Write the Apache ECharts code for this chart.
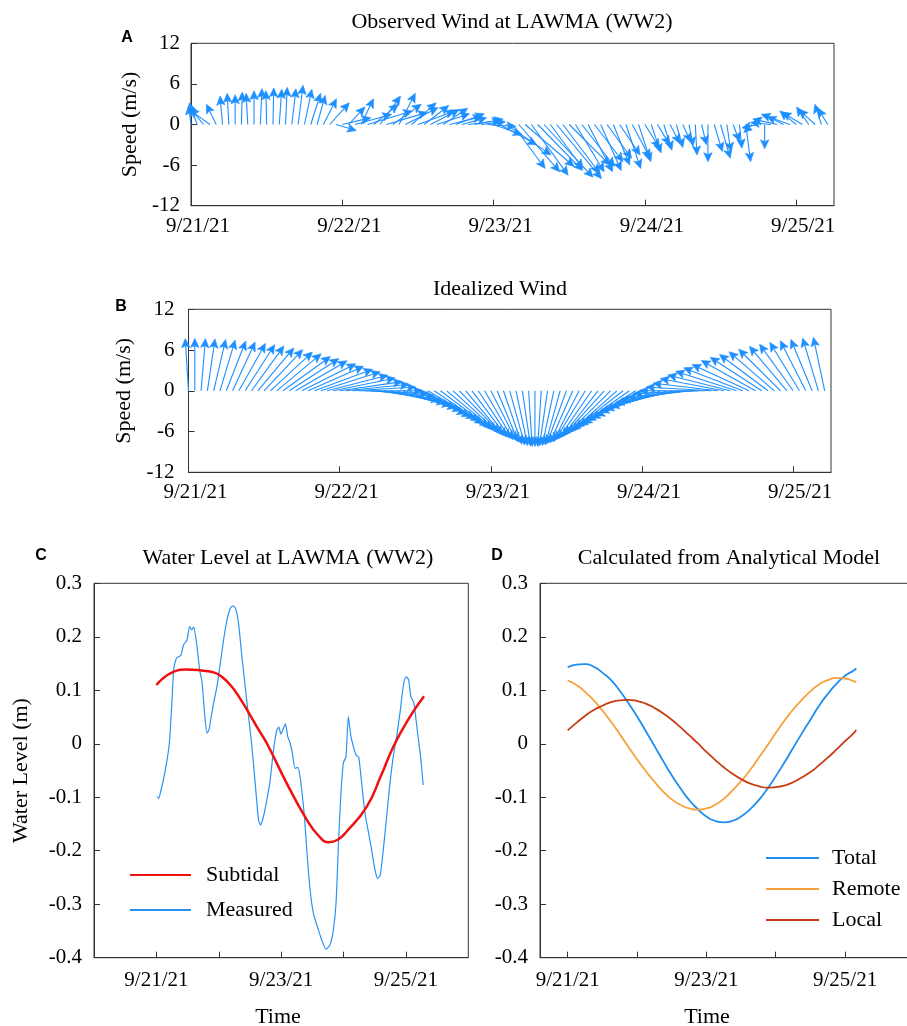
<!DOCTYPE html>
<html>
<head>
<meta charset="utf-8">
<script src="https://cdn.jsdelivr.net/npm/echarts@6/dist/echarts.min.js"></script>
<style>
  html, body { margin: 0; padding: 0; background: #fff; }
  #chart { width: 907px; height: 1026px; }
</style>
</head>
<body>
<div id="chart"></div>
<script>
  // x values are days after 9/21/21 00:00
  const dayLabels = ['9/21/21', '9/22/21', '9/23/21', '9/24/21', '9/25/21'];

  // hourly wind samples, 9/21 00:00 .. 9/25 05:00
  const windHours = Array.from({ length: 102 }, (_, i) => i);

  // A: observed wind components (m/s), east (u) and north (v)
  const obsU = [-0.3, -1.0, -1.8, -2.5, -1.2, -0.3, -0.2, 0.0, 0.1, -0.2, 0.0, 0.2, -0.1, 0.1, 0.3, 0.2, 0.5, 0.6, 0.9, 1.2,
    1.0, 1.6, 2.4, 2.5, 3.5, 2.0, 4.5, 1.5, 5.5, 3.0, 2.5, 5.0, 3.5, 2.0, 4.0, 3.0, 4.5, 3.0, 3.5, 4.0,
    3.0, 4.0, 3.5, 3.0, 4.0, 3.5, 3.0, 3.5, 3.5, 4.5, 5.5, 4.0, 5.0, 6.0, 4.5, 5.5, 6.0, 4.0, 5.5, 4.5,
    5.0, 3.5, 4.0, 3.0, 3.5, 2.5, 3.0, 2.0, 2.5, 1.8, 2.2, 1.5, 1.8, 1.2, 1.5, 1.0, 1.2, 0.8, 1.0, 0.5,
    0.2, 0.6, 0.0, 1.0, 1.2, 0.5, 0.8, 0.3, 0.6, -1.0, -2.0, 0.0, -2.5, -3.0, -2.0, -3.5, -2.0, -2.5, -1.5, -2.0,
    -0.8, -1.2];
  const obsV = [2.8, 3.2, 2.6, 2.2, 3.0, 4.2, 4.6, 4.4, 4.8, 4.6, 5.0, 5.3, 5.0, 5.4, 5.2, 5.5, 5.3, 5.8, 5.2, 4.6,
    4.3, 3.8, 3.2, -0.9, 1.0, 2.6, 1.5, 3.8, 2.0, 3.0, 4.2, 1.8, 3.0, 4.6, 2.5, 3.2, 2.0, 2.8, 2.2, 1.6,
    2.4, 1.2, 1.6, 1.0, 0.6, 0.8, 0.4, -0.3, -1.5, -3.0, -4.5, -6.5, -7.0, -6.2, -7.5, -6.8, -7.8, -6.5, -8.0, -7.2,
    -6.0, -7.0, -6.2, -7.0, -5.5, -6.8, -5.0, -6.0, -4.5, -6.5, -5.0, -5.5, -3.5, -4.2, -3.0, -3.8, -2.8, -3.4, -2.6, -3.2,
    -4.5, -3.0, -5.5, -4.0, -5.0, -4.0, -2.5, -3.5, -5.5, -1.2, -0.5, -3.6, 0.3, 0.8, 1.2, 1.5, 2.0, 1.8, 2.6, 2.2,
    3.0, 2.4];

  // B: idealized wind, speed (m/s) and direction it points to (deg clockwise from north)
  const idealSpeed = [7.7, 7.7, 7.7, 7.7, 7.7, 7.7, 7.7, 7.7, 7.7, 7.7, 7.7, 7.7, 7.7, 7.7, 7.7, 7.7, 7.7, 7.7, 7.7, 7.7,
    7.8, 7.8, 7.8, 7.8, 7.8, 7.8, 7.8, 7.8, 7.8, 7.8, 7.8, 7.8, 7.8, 7.8, 7.8, 7.8, 7.8, 7.8, 7.8, 7.8,
    8.0, 8.0, 8.0, 8.0, 8.0, 8.0, 8.0, 8.0, 8.0, 8.0,
    8.2, 8.2, 8.2, 8.2, 8.2, 8.2, 8.2, 8.2, 8.2, 8.2, 8.2, 8.2, 8.2, 8.2, 8.2,
    8.1, 8.1, 8.1, 8.1, 8.1, 8.1, 8.1, 8.1, 8.1, 8.1, 8.1, 8.1, 8.1, 8.1, 8.1,
    8.0, 8.0, 8.0, 8.0, 8.0, 8.0, 8.0, 8.0, 8.0, 8.0, 8.0, 8.0, 8.0, 8.0, 8.0, 8.0, 8.0, 8.0, 8.0, 8.0, 8.0, 8.0];
  const idealDir = [-3, 0, 4, 7, 11, 14, 18, 21, 25, 28, 31, 35, 38, 42, 45, 49, 52, 55, 59, 62, 66, 69, 73, 76, 80, 83, 86, 90,
    93, 96, 100, 103, 106, 109, 112, 116, 119, 122, 125, 129, 132, 135, 138, 141, 145, 148, 151, 154, 157, 161, 164, 167, 170, 173, 177, 180,
    183, 187, 190, 193, 197, 200, 203, 207, 210, 213, 217, 220, 223, 227, 230, 233, 237, 240, 243, 247, 250, 253, 257, 260, 263, 267, 270,
    274, 278, 283, 287, 291, 295, 299, 304, 308, 312, 316, 320, 325, 329, 333, 337, 341, 346, 350];

  // C: water level at LAWMA (m)
  const subTime = [0, 0.28, 0.49, 0.72, 0.93, 1.05, 1.2, 1.35, 1.5, 1.65, 1.77, 2.09, 2.41, 2.6, 2.76, 2.9, 3.05, 3.37, 3.6, 3.8, 4.05, 4.29];
  const subLevel = [0.110, 0.135, 0.139, 0.137, 0.133, 0.125, 0.108, 0.083, 0.054, 0.024, 0.001, -0.074, -0.142, -0.172, -0.184, -0.180, -0.164, -0.118, -0.060, -0.005, 0.048, 0.089];
  const measTime = [0.011, 0.037, 0.075, 0.117, 0.171, 0.208, 0.245, 0.277, 0.32, 0.363, 0.395, 0.437, 0.491, 0.533, 0.565, 0.597,
    0.651, 0.693, 0.731, 0.768, 0.811, 0.843, 0.88, 0.917, 0.971, 1.024, 1.077, 1.131, 1.184, 1.227, 1.269, 1.317,
    1.371, 1.424, 1.477, 1.531, 1.584, 1.637, 1.669, 1.717, 1.771, 1.824, 1.877, 1.931, 1.963, 1.995, 2.027, 2.069,
    2.107, 2.144, 2.176, 2.224, 2.267, 2.304, 2.336, 2.373, 2.411, 2.464, 2.517, 2.597, 2.651, 2.72, 2.784, 2.837,
    2.88, 2.917, 2.955, 2.997, 3.04, 3.077, 3.115, 3.157, 3.2, 3.243, 3.291, 3.344, 3.397, 3.451, 3.504, 3.547,
    3.589, 3.637, 3.691, 3.744, 3.797, 3.851, 3.904, 3.957, 4.0, 4.043, 4.08, 4.128, 4.181, 4.235, 4.277];
  const measLevel = [-0.099, -0.102, -0.086, -0.065, -0.030, 0.001, 0.069, 0.138, 0.160, 0.163, 0.166, 0.185, 0.194, 0.219, 0.213, 0.218,
    0.182, 0.138, 0.116, 0.063, 0.020, 0.026, 0.051, 0.076, 0.107, 0.150, 0.194, 0.231, 0.253, 0.258, 0.253, 0.225,
    0.163, 0.107, 0.051, -0.005, -0.074, -0.142, -0.152, -0.136, -0.105, -0.068, -0.012, 0.026, 0.031, 0.018, 0.026, 0.037,
    0.013, 0.001, -0.015, -0.046, -0.044, -0.062, -0.093, -0.136, -0.199, -0.273, -0.317, -0.348, -0.367, -0.384, -0.376, -0.348,
    -0.298, -0.192, -0.099, -0.036, -0.024, 0.051, 0.016, -0.005, -0.021, -0.025, -0.074, -0.130, -0.164, -0.199, -0.236, -0.252,
    -0.245, -0.199, -0.136, -0.074, -0.024, 0.013, 0.057, 0.107, 0.125, 0.120, 0.088, 0.076, 0.026, -0.024, -0.077];

  // D: analytical model (m)
  const modelTime = [0, 0.125, 0.25, 0.375, 0.5, 0.625, 0.75, 0.875, 1, 1.125, 1.25, 1.375, 1.5, 1.625, 1.75, 1.875, 2,
    2.125, 2.25, 2.375, 2.5, 2.625, 2.75, 2.875, 3, 3.125, 3.25, 3.375, 3.5, 3.625, 3.75, 3.875, 4, 4.125, 4.16];
  const modelTotal = [0.143, 0.148, 0.149, 0.144, 0.133, 0.119, 0.099, 0.076, 0.051, 0.024, -0.004, -0.032, -0.059, -0.083, -0.105, -0.122, -0.136,
    -0.144, -0.147, -0.144, -0.136, -0.123, -0.106, -0.085, -0.061, -0.035, -0.008, 0.019, 0.045, 0.071, 0.093, 0.112, 0.127, 0.137, 0.141];
  const modelRemote = [0.118, 0.110, 0.097, 0.081, 0.062, 0.041, 0.018, -0.006, -0.029, -0.051, -0.071, -0.089, -0.104, -0.114, -0.121, -0.123, -0.121,
    -0.114, -0.103, -0.087, -0.070, -0.050, -0.027, -0.004, 0.020, 0.043, 0.064, 0.082, 0.098, 0.111, 0.119, 0.123, 0.122, 0.117, 0.115];
  const modelLocal = [0.025, 0.039, 0.052, 0.063, 0.071, 0.078, 0.081, 0.082, 0.080, 0.075, 0.067, 0.057, 0.045, 0.031, 0.016, 0.001, -0.015,
    -0.030, -0.044, -0.056, -0.066, -0.074, -0.079, -0.082, -0.081, -0.078, -0.072, -0.063, -0.053, -0.040, -0.026, -0.011, 0.005, 0.020, 0.026];

  const SERIF = 'Liberation Serif';
  const ARROW_BLUE = '#1E8FFF';
  const ARROW_DAYS_PER_MS = 0.054; // horizontal stretch of a wind vector on the time axis
  const HEAD_LEN = 9;
  const HEAD_HALF = 4.2;

  const obsRows = windHours.map((h, i) => [h / 24, obsU[i], obsV[i]]);
  const idealRows = windHours.map((h, i) => {
    const a = idealDir[i] * Math.PI / 180;
    return [h / 24, idealSpeed[i] * Math.sin(a), idealSpeed[i] * Math.cos(a)];
  });
  const pairs = (xs, ys) => xs.map((x, i) => [x, ys[i]]);

  function renderArrow(params, api) {
    const t = api.value(0);
    const u = api.value(1);
    const v = api.value(2);
    const p0 = api.coord([t, 0]);
    const p1 = api.coord([t + u * ARROW_DAYS_PER_MS, v]);
    const dx = p1[0] - p0[0];
    const dy = p1[1] - p0[1];
    const len = Math.hypot(dx, dy);
    if (len < 0.5) return null;
    const ux = dx / len, uy = dy / len;
    const hl = Math.min(HEAD_LEN, len * 0.7);
    const hw = HEAD_HALF * hl / HEAD_LEN;
    const bx = p1[0] - ux * hl, by = p1[1] - uy * hl;
    const nx = -uy, ny = ux;
    const notch = [p1[0] - ux * hl * 0.8, p1[1] - uy * hl * 0.8];
    return {
      type: 'group',
      children: [
        { type: 'line', shape: { x1: p0[0], y1: p0[1], x2: notch[0], y2: notch[1] }, style: { stroke: ARROW_BLUE, lineWidth: 1.1 } },
        { type: 'polygon', shape: { points: [[p1[0], p1[1]], [bx + nx * hw, by + ny * hw], notch, [bx - nx * hw, by - ny * hw]] },
          style: { fill: ARROW_BLUE, stroke: ARROW_BLUE, lineWidth: 0.6 } }
      ]
    };
  }

  const tickLabel = { color: '#000', fontFamily: SERIF, fontSize: 21 };
  const axisLine = { show: true, onZero: false, lineStyle: { color: '#333', width: 1 } };
  const tickIn = { show: true, inside: true, length: 6, lineStyle: { color: '#333' } };

  function windXAxis(gridIndex) {
    return {
      type: 'value', gridIndex: gridIndex, min: 0, max: 4.25, interval: 1,
      axisLine: axisLine, splitLine: { show: false },
      axisTick: Object.assign({ customValues: [0, 1, 2, 3, 4] }, tickIn),
      axisLabel: Object.assign({ customValues: [0, 1, 2, 3, 4], margin: 10, padding: [0, 0, 0, 14],
        formatter: (v) => dayLabels[Math.round(v)] || '' }, tickLabel)
    };
  }
  function windYAxis(gridIndex, margin, gap) {
    return {
      type: 'value', gridIndex: gridIndex, min: -12, max: 12, interval: 6,
      axisLine: axisLine, axisTick: tickIn, splitLine: { show: false },
      axisLabel: Object.assign({ margin: margin }, tickLabel),
      name: 'Speed (m/s)', nameLocation: 'middle', nameGap: gap,
      nameTextStyle: { color: '#000', fontFamily: SERIF, fontSize: 22 }
    };
  }
  function levelXAxis(gridIndex, min) {
    return {
      type: 'value', gridIndex: gridIndex, min: min, max: 5,
      axisLine: axisLine, splitLine: { show: false },
      axisTick: Object.assign({ customValues: [0, 1, 2, 3, 4] }, tickIn),
      axisLabel: Object.assign({ customValues: [0, 2, 4], margin: 12,
        formatter: (v) => dayLabels[Math.round(v)] || '' }, tickLabel)
    };
  }
  function levelYAxis(gridIndex) {
    return {
      type: 'value', gridIndex: gridIndex, min: -0.4, max: 0.3, interval: 0.1,
      axisLine: axisLine, axisTick: tickIn, splitLine: { show: false },
      axisLabel: Object.assign({ margin: 12 }, tickLabel)
    };
  }

  const gridBase = { show: true, borderColor: '#333', borderWidth: 1, containLabel: false, outerBoundsMode: 'none' };
  const textEl = (x, y, text, font) => ({
    type: 'text', x: x, y: y,
    style: { text: text, font: font, fill: '#000', align: 'center', verticalAlign: 'middle' }
  });
  const legendBase = {
    orient: 'vertical', padding: 0, itemHeight: 14,
    itemStyle: { opacity: 0 },
    textStyle: { color: '#000', fontFamily: SERIF, fontSize: 22 }
  };

  const chart = echarts.init(document.getElementById('chart'));
  chart.setOption({
    animation: false,
    textStyle: { fontFamily: SERIF },
    grid: [
      Object.assign({ left: 191, top: 43.3, width: 643, height: 162.4 }, gridBase),
      Object.assign({ left: 188.5, top: 309.3, width: 642.5, height: 163 }, gridBase),
      Object.assign({ left: 94, top: 583.3, width: 374.3, height: 374.4 }, gridBase),
      Object.assign({ left: 540, top: 583.3, width: 374.4, height: 374.4 }, gridBase)
    ],
    xAxis: [windXAxis(0), windXAxis(1), levelXAxis(2, -1), levelXAxis(3, -0.4)],
    yAxis: [
      windYAxis(0, 11, 49),
      windYAxis(1, 14, 51),
      Object.assign(levelYAxis(2), { name: 'Water Level (m)', nameLocation: 'middle', nameGap: 62,
        nameTextStyle: { color: '#000', fontFamily: SERIF, fontSize: 22 } }),
      levelYAxis(3)
    ],
    legend: [
      Object.assign({}, legendBase, {
        data: ['Subtidal', 'Measured'], left: 129, top: 864, itemWidth: 61, itemGap: 13,
        textStyle: Object.assign({}, legendBase.textStyle, { padding: [0, 0, 0, 10] })
      }),
      Object.assign({}, legendBase, {
        data: ['Total', 'Remote', 'Local'], left: 765, top: 847, itemWidth: 53, itemGap: 9,
        textStyle: Object.assign({}, legendBase.textStyle, { padding: [0, 0, 0, 8] })
      })
    ],
    graphic: [
      textEl(512, 22, 'Observed Wind at LAWMA (WW2)', '22px "Liberation Serif"'),
      textEl(500, 289, 'Idealized Wind', '22px "Liberation Serif"'),
      textEl(288, 558, 'Water Level at LAWMA (WW2)', '22px "Liberation Serif"'),
      textEl(729, 558, 'Calculated from Analytical Model', '22px "Liberation Serif"'),
      textEl(278, 1017, 'Time', '22px "Liberation Serif"'),
      textEl(707, 1017, 'Time', '22px "Liberation Serif"'),
      textEl(127, 38, 'A', 'bold 16px "Liberation Sans"'),
      textEl(121, 307, 'B', 'bold 16px "Liberation Sans"'),
      textEl(41, 556, 'C', 'bold 16px "Liberation Sans"'),
      textEl(497, 556, 'D', 'bold 16px "Liberation Sans"')
    ],
    series: [
      { name: 'Observed', type: 'custom', xAxisIndex: 0, yAxisIndex: 0, data: obsRows,
        encode: { x: 0, y: 2 }, renderItem: renderArrow, silent: true },
      { name: 'Idealized', type: 'custom', xAxisIndex: 1, yAxisIndex: 1, data: idealRows,
        encode: { x: 0, y: 2 }, renderItem: renderArrow, silent: true },
      { name: 'Measured', type: 'line', xAxisIndex: 2, yAxisIndex: 2, data: pairs(measTime, measLevel),
        symbol: 'none', smooth: 0.2, lineStyle: { color: '#2A92F2', width: 1.2 }, itemStyle: { color: '#2A92F2' } },
      { name: 'Subtidal', type: 'line', xAxisIndex: 2, yAxisIndex: 2, data: pairs(subTime, subLevel),
        symbol: 'none', smooth: true, lineStyle: { color: '#F01010', width: 2.5 }, itemStyle: { color: '#F01010' } },
      { name: 'Total', type: 'line', xAxisIndex: 3, yAxisIndex: 3, data: pairs(modelTime, modelTotal),
        symbol: 'none', smooth: 0.6, lineStyle: { color: '#1F8CF0', width: 1.8 }, itemStyle: { color: '#1F8CF0' } },
      { name: 'Remote', type: 'line', xAxisIndex: 3, yAxisIndex: 3, data: pairs(modelTime, modelRemote),
        symbol: 'none', smooth: 0.6, lineStyle: { color: '#F6A13C', width: 1.8 }, itemStyle: { color: '#F6A13C' } },
      { name: 'Local', type: 'line', xAxisIndex: 3, yAxisIndex: 3, data: pairs(modelTime, modelLocal),
        symbol: 'none', smooth: 0.6, lineStyle: { color: '#C83C14', width: 1.8 }, itemStyle: { color: '#C83C14' } }
    ]
  });
</script>
</body>
</html>
